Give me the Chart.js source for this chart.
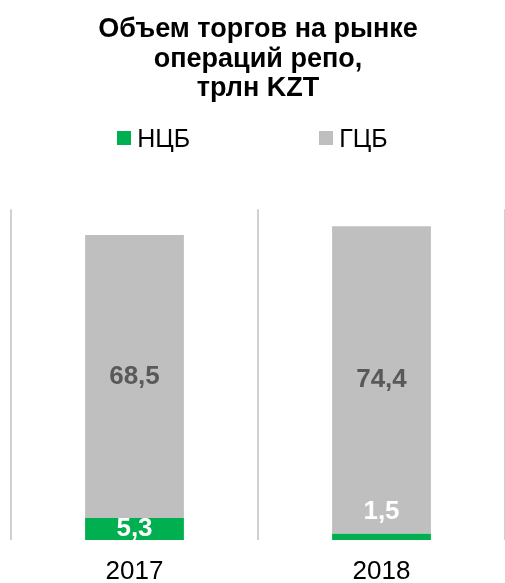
<!DOCTYPE html>
<html>
<head>
<meta charset="utf-8">
<script src="https://cdn.jsdelivr.net/npm/chart.js@4/dist/chart.umd.min.js"></script>
<style>
    body { margin: 0; background: #fff; }
    #wrap { position: relative; width: 505px; height: 583px; }
    #legend {
        position: absolute; top: 124px; left: 0; width: 100%;
        display: flex; justify-content: center; gap: 129px;
        font: 25px Arial, "Liberation Sans", sans-serif; line-height: 28px; color: #000;
    }
    #legend .item { display: flex; align-items: center; }
    #legend .box { width: 14px; height: 14px; margin-right: 6px; }
</style>
</head>
<body>
<div id="wrap">
    <canvas id="chartRepo"></canvas>
    <div id="legend"></div>
</div>
<script>
"use strict";

// данные
const years = ["2017", "2018"];
const ncbValues = [5.3, 1.5];
const gcbValues = [68.5, 74.4];
const seriesNames = ["НЦБ", "ГЦБ"];
const titleLines = ["Объем торгов на рынке", "операций репо,", "трлн KZT"];

const fontFamily = "Arial, 'Liberation Sans', sans-serif";
const chartColors = { green: "#00b050", gray: "#bfbfbf", grid: "#d0d0d0" };
const labelColors = ["#ffffff", "#595959"];
const labelSize = 26;

const barLabels = {
    id: "barLabels",
    afterDatasetsDraw(chart) {
        const ctx = chart.ctx;
        ctx.save();
        ctx.font = "bold " + labelSize + "px " + fontFamily;
        ctx.textAlign = "center";
        ctx.textBaseline = "middle";
        chart.data.datasets.forEach((ds, i) => {
            const meta = chart.getDatasetMeta(i);
            meta.data.forEach((bar, j) => {
                const text = ds.data[j].toFixed(1).replace(".", ",");
                const h = bar.base - bar.y;
                let y = (bar.y + bar.base) / 2;
                // маленький сегмент - подпись над ним
                if (h < 12) y = bar.y - labelSize / 2 - 9;
                ctx.fillStyle = labelColors[i];
                ctx.fillText(text, bar.x, y);
            });
        });
        ctx.restore();
    },
};

const ctx = document.getElementById("chartRepo").getContext("2d");
const chartRepo = new Chart(ctx, {
    type: "bar",
    data: {
        labels: years,
        datasets: [
            {
                label: seriesNames[0],
                data: ncbValues,
                backgroundColor: chartColors.green,
                borderWidth: 0,
            },
            {
                label: seriesNames[1],
                data: gcbValues,
                backgroundColor: chartColors.gray,
                borderWidth: 0,
            },
        ],
    },
    options: {
        responsive: true,
        maintainAspectRatio: false,
        animation: false,
        datasets: {
            bar: { categoryPercentage: 1, barPercentage: 0.4 },
        },
        layout: { padding: { left: 11, right: 0, top: 0, bottom: 0 } },
        scales: {
            x: {
                stacked: true,
                border: { display: false },
                grid: {
                    display: true,
                    offset: true,
                    color: chartColors.grid,
                    lineWidth: 2,
                    drawTicks: false,
                },
                ticks: {
                    color: "#000",
                    padding: 19,
                    font: { family: fontFamily, size: 26, lineHeight: 1 },
                },
                afterFit(scale) {
                    scale.height = 43;
                },
            },
            y: {
                stacked: true,
                display: false,
                min: 0,
                max: 80,
            },
        },
        plugins: {
            legend: { display: false },
            tooltip: { enabled: false },
            title: {
                display: true,
                text: titleLines,
                color: "#000",
                font: { family: fontFamily, size: 27, weight: "bold", lineHeight: 1.09 },
                padding: { top: 15, bottom: 106 },
            },
        },
    },
    plugins: [barLabels],
});

// легенда
const legendEl = document.getElementById("legend");
chartRepo.data.datasets.forEach((ds) => {
    const item = document.createElement("div");
    item.className = "item";
    const box = document.createElement("span");
    box.className = "box";
    box.style.background = ds.backgroundColor;
    item.appendChild(box);
    item.appendChild(document.createTextNode(ds.label));
    legendEl.appendChild(item);
});
</script>
</body>
</html>
